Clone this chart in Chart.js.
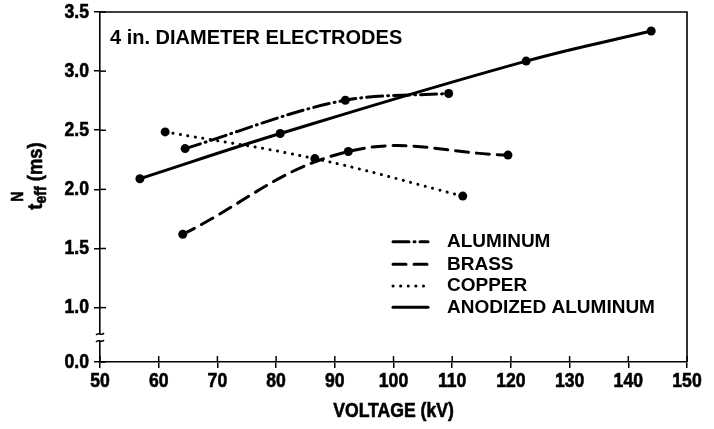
<!DOCTYPE html>
<html>
<head>
<meta charset="utf-8">
<script src="https://cdn.jsdelivr.net/npm/chart.js@4.4.0/dist/chart.umd.min.js"></script>
<style>
  html, body { margin: 0; padding: 0; background: #fff; }
  #wrap { width: 714px; height: 429px; position: relative; }
</style>
</head>
<body>
<div id="wrap"><canvas id="c" width="714" height="429"></canvas></div>
<script>
// ---- data ----
const seriesNames = ['ALUMINUM', 'BRASS', 'COPPER', 'ANODIZED ALUMINUM'];
const aluminumV = [64.5, 91.8, 109.4];
const aluminumN = [2.345, 2.754, 2.811];
const brassV = [64.1, 92.3, 119.5];
const brassN = [1.62, 2.32, 2.29];
const copperV = [61.1, 86.6, 111.8];
const copperN = [2.486, 2.26, 1.943];
const anodizedV = [56.8, 80.7, 122.6, 143.9];
const anodizedN = [2.09, 2.472, 3.085, 3.339];
const xMin = 50, xMax = 150, xStep = 10;
const yTickValues = [1.0, 1.5, 2.0, 2.5, 3.0, 3.5];
const yBreakLabel = '0.0';
const titleText = '4 in. DIAMETER ELECTRODES';
const xTitle = 'VOLTAGE (kV)';

// broken axis: the "0.0" tick sits at this scale value
const yAxisBase = 0.54;

const condFont = "bold 20px 'Liberation Sans', Arial, sans-serif";
const condScale = 0.88;

function pts(xs, ys) { return xs.map((x, i) => ({ x: x, y: ys[i] })); }

const dashes = [[16, 5, 1, 5], [13, 8], [0.1, 7.5], []];
const modes = ['monotone', 'default', 'default', 'default'];

const datasets = [
  { label: seriesNames[0], data: pts(aluminumV, aluminumN) },
  { label: seriesNames[1], data: pts(brassV, brassN) },
  { label: seriesNames[2], data: pts(copperV, copperN) },
  { label: seriesNames[3], data: pts(anodizedV, anodizedN) }
].map((d, i) => Object.assign(d, {
  borderColor: '#000', backgroundColor: '#000', borderWidth: 3,
  borderDash: dashes[i], cubicInterpolationMode: modes[i],
  pointRadius: 4.5, pointBackgroundColor: '#000', pointBorderWidth: 0,
  tension: 0.4, borderCapStyle: 'round', fill: false
}));

function condText(ctx, text, x, y, align) {
  ctx.save();
  ctx.font = condFont;
  ctx.translate(x, y);
  ctx.scale(condScale, 1);
  ctx.textAlign = align;
  ctx.textBaseline = 'middle';
  ctx.lineWidth = 0.6;
  ctx.strokeStyle = '#000';
  ctx.fillText(text, 0, 0);
  ctx.strokeText(text, 0, 0);
  ctx.restore();
}

const overlay = {
  id: 'overlay',
  afterDraw(chart) {
    const ctx = chart.ctx;
    const a = chart.chartArea;
    const xs = chart.scales.x, ys = chart.scales.y;
    ctx.save();
    ctx.strokeStyle = '#000';
    ctx.fillStyle = '#000';
    // frame top & right
    ctx.lineWidth = 1.6;
    ctx.beginPath();
    ctx.moveTo(a.left, a.top); ctx.lineTo(a.right, a.top); ctx.lineTo(a.right, a.bottom);
    ctx.stroke();
    // inward tick halves
    ctx.lineWidth = 1.5;
    xs.ticks.forEach(t => {
      const px = xs.getPixelForValue(t.value);
      ctx.beginPath(); ctx.moveTo(px, a.bottom); ctx.lineTo(px, a.bottom - 6); ctx.stroke();
    });
    ys.ticks.forEach(t => {
      const py = ys.getPixelForValue(t.value);
      ctx.beginPath(); ctx.moveTo(a.left, py); ctx.lineTo(a.left + 6, py); ctx.stroke();
    });
    // tick labels (condensed bold)
    xs.ticks.forEach(t => {
      condText(ctx, t.label, xs.getPixelForValue(t.value), a.bottom + 19, 'center');
    });
    ys.ticks.forEach(t => {
      condText(ctx, t.label, a.left - 11, ys.getPixelForValue(t.value), 'right');
    });
    // axis break marks
    const y1 = ys.getPixelForValue(1.0), y0 = a.bottom;
    const by = y1 + 0.55 * (y0 - y1);
    ctx.fillStyle = '#fff';
    ctx.fillRect(a.left - 3, by - 3, 6, 6);
    ctx.strokeStyle = '#000';
    ctx.lineWidth = 1.4;
    [by - 3.5, by + 3.5].forEach(yy => {
      ctx.beginPath();
      ctx.moveTo(a.left - 4, yy + 1);
      ctx.bezierCurveTo(a.left - 1.5, yy - 2.5, a.left + 1.5, yy + 2.5, a.left + 4, yy - 1);
      ctx.stroke();
    });
    // title
    ctx.fillStyle = '#000';
    ctx.font = "bold 20px 'Liberation Sans', Arial, sans-serif";
    ctx.textAlign = 'left'; ctx.textBaseline = 'middle';
    ctx.fillText(titleText, a.left + 10, 38);
    // legend
    const rows = [241.7, 264.3, 286, 307.3];
    ctx.font = "bold 19px 'Liberation Sans', Arial, sans-serif";
    chart.data.datasets.forEach((d, i) => {
      const yy = rows[i];
      ctx.save();
      ctx.lineWidth = 3; ctx.lineCap = 'round';
      ctx.setLineDash(d.borderDash);
      ctx.beginPath(); ctx.moveTo(393, yy); ctx.lineTo(428, yy); ctx.stroke();
      ctx.restore();
      ctx.fillText(d.label, 447, yy);
    });
    // x title
    condText(ctx, xTitle, (a.left + a.right) / 2, 411, 'center');
    // y title (rotated)
    ctx.save();
    ctx.translate(36, 176);
    ctx.rotate(-Math.PI / 2);
    ctx.scale(condScale, 1);
    ctx.textBaseline = 'alphabetic'; ctx.textAlign = 'left';
    ctx.lineWidth = 0.6; ctx.strokeStyle = '#000';
    const big = "bold 21px 'Liberation Sans', Arial, sans-serif";
    const small = "bold 16px 'Liberation Sans', Arial, sans-serif";
    ctx.font = big; const wT = ctx.measureText('t').width;
    ctx.font = small; const wE = ctx.measureText('eff').width;
    ctx.font = big; const wM = ctx.measureText(' (ms)').width;
    const total = wT + wE + wM;
    const x0 = -total / 2;
    const draw = (txt, f, x, y) => { ctx.font = f; ctx.fillText(txt, x, y); ctx.strokeText(txt, x, y); };
    draw('t', big, x0, 6);
    draw('eff', small, x0 + wT, 10);
    draw('N', small, x0 + wT + 2, -13);
    draw(' (ms)', big, x0 + wT + wE, 6);
    ctx.restore();
    ctx.restore();
  }
};

new Chart(document.getElementById('c'), {
  type: 'line',
  data: { datasets: datasets },
  options: {
    responsive: false,
    animation: false,
    layout: { padding: { left: 0, right: 27, top: 12, bottom: 0 } },
    plugins: { legend: { display: false }, tooltip: { enabled: false } },
    scales: {
      x: {
        type: 'linear', min: xMin, max: xMax,
        border: { display: true, color: '#000', width: 1.6 },
        grid: { drawOnChartArea: false, drawTicks: true, tickLength: 6, color: '#000', lineWidth: 1.5 },
        ticks: { stepSize: xStep, display: false },
        afterFit(s) { s.height = 67; }
      },
      y: {
        type: 'linear', min: yAxisBase, max: 3.5,
        border: { display: true, color: '#000', width: 1.6 },
        grid: { drawOnChartArea: false, drawTicks: true, tickLength: 6, color: '#000', lineWidth: 1.5 },
        ticks: {
          display: false,
          callback: v => (Math.abs(v - yAxisBase) < 1e-6 ? yBreakLabel : Number(v).toFixed(1))
        },
        afterBuildTicks(s) { s.ticks = [yAxisBase].concat(yTickValues).map(v => ({ value: v })); },
        afterFit(s) { s.width = 100; }
      }
    }
  },
  plugins: [overlay]
});
</script>
</body>
</html>
